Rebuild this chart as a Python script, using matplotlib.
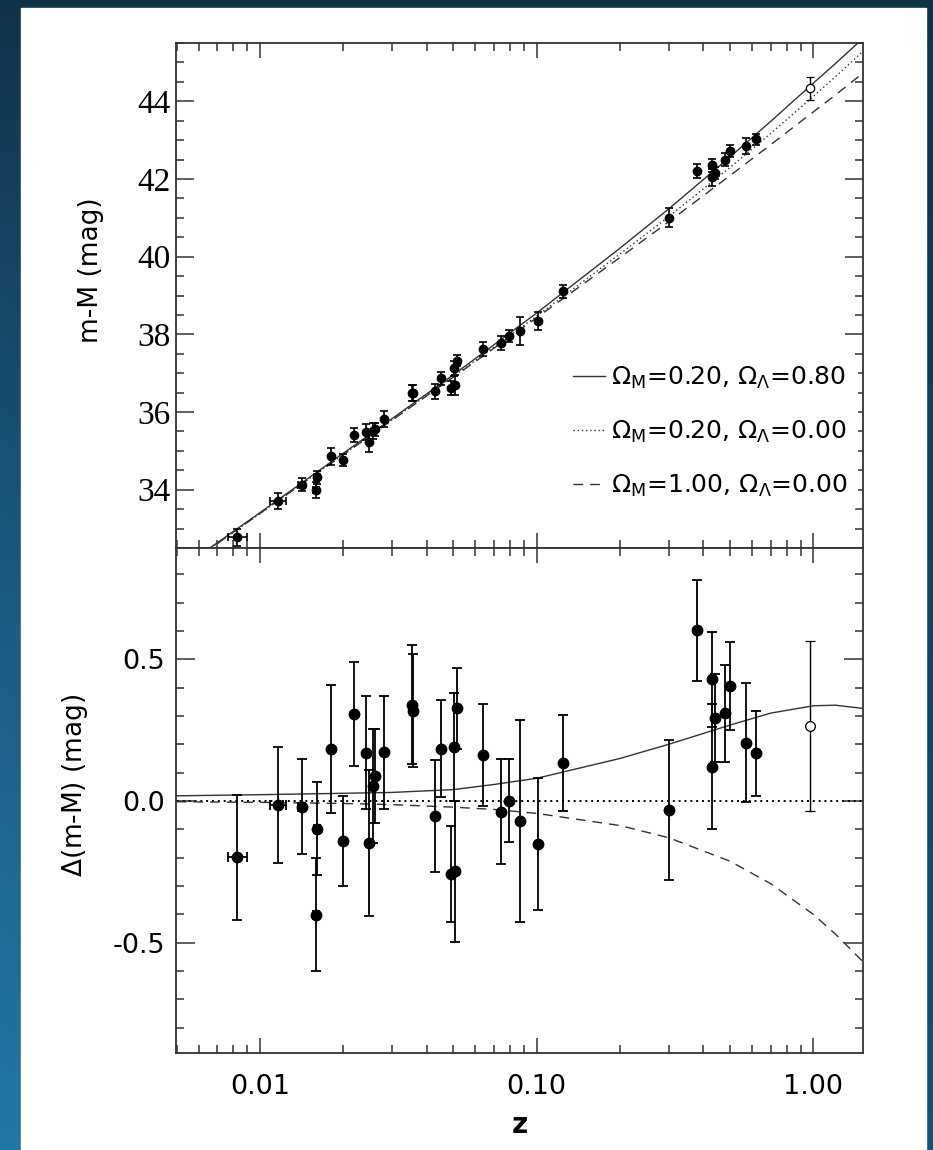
import numpy as np
import matplotlib
matplotlib.use('Agg')
import matplotlib.pyplot as plt
from matplotlib.ticker import FixedLocator, MultipleLocator, LogLocator, NullFormatter
from matplotlib.patches import Rectangle
from matplotlib.colors import LinearSegmentedColormap

plt.rcParams['font.family'] = ['DejaVu Sans']
plt.rcParams['mathtext.fontset'] = 'dejavusans'

# supernovae (filled points): redshift, distance modulus, residual, error
z = [0.00829, 0.01165, 0.01414, 0.0159, 0.01602, 0.01804, 0.01994, 0.02192,
     0.02421, 0.02475, 0.0257, 0.02594, 0.02803, 0.03528, 0.03558, 0.04282,
     0.045, 0.04911, 0.05028, 0.05064, 0.05159, 0.06383, 0.07436, 0.07967,
     0.08683, 0.1008, 0.1245, 0.2995, 0.3802, 0.4309, 0.4309, 0.4406,
     0.4786, 0.5004, 0.5715, 0.6212]
mu = [32.78, 33.71, 34.13, 34.00, 34.32, 34.86, 34.76, 35.41,
      35.49, 35.22, 35.51, 35.56, 35.82, 36.49, 36.49, 36.53,
      36.87, 36.62, 37.13, 36.70, 37.32, 37.63, 37.77, 37.96,
      38.09, 38.34, 39.11, 41.00, 42.21, 42.35, 42.04, 42.15,
      42.50, 42.71, 42.85, 43.02]
dmu = [-0.199, -0.014, -0.020, -0.402, -0.098, 0.183, -0.141, 0.307,
       0.170, -0.149, 0.053, 0.088, 0.172, 0.339, 0.319, -0.053,
       0.185, -0.259, 0.190, -0.249, 0.327, 0.162, -0.038, 0.001,
       -0.071, -0.152, 0.135, -0.032, 0.603, 0.429, 0.121, 0.292,
       0.309, 0.407, 0.206, 0.168]
err = [0.22, 0.205, 0.167, 0.20, 0.165, 0.225, 0.16, 0.185,
       0.20, 0.257, 0.20, 0.165, 0.20, 0.21, 0.20, 0.197,
       0.17, 0.17, 0.19, 0.25, 0.143, 0.18, 0.185, 0.147,
       0.357, 0.233, 0.17, 0.247, 0.178, 0.168, 0.22, 0.155,
       0.17, 0.155, 0.21, 0.15]

# redshift errors for the nearest objects
z_near = [0.00829, 0.01165, 0.01414, 0.0159, 0.01602]
mu_near = [32.78, 33.71, 34.13, 34.00, 34.32]
dmu_near = [-0.199, -0.014, -0.020, -0.402, -0.098]
zerr_near = [0.00065, 0.0008, 0.0004, 0.0004, 0.0004]

# open point
z_open = [0.973]
mu_open = [44.33]
dmu_open = [0.265]
err_open = [0.30]

# model curves
z_model = [0.005, 0.01, 0.02, 0.03, 0.05, 0.07, 0.1, 0.2, 0.3, 0.5, 0.7, 1.0, 1.2, 1.5]
mu_lambda = [31.90, 33.41, 34.94, 35.83, 36.96, 37.73, 38.55, 40.22, 41.23, 42.57, 43.48, 44.47, 44.97, 45.60]
mu_empty = [31.88, 33.39, 34.91, 35.80, 36.92, 37.67, 38.47, 40.07, 41.03, 42.30, 43.17, 44.13, 44.63, 45.27]
mu_flat = [31.88, 33.39, 34.90, 35.79, 36.90, 37.64, 38.43, 39.98, 40.90, 42.09, 42.88, 43.73, 44.16, 44.71]
res_lambda = [0.018, 0.022, 0.027, 0.030, 0.040, 0.058, 0.080, 0.150, 0.200, 0.268, 0.310, 0.336, 0.338, 0.327]
res_empty = [0, 0, 0, 0, 0, 0, 0, 0, 0, 0, 0, 0, 0, 0]
res_flat = [-0.003, -0.005, -0.009, -0.013, -0.022, -0.030, -0.044, -0.087, -0.130, -0.213, -0.292, -0.401, -0.470, -0.565]

labels = [r'$\Omega_{\rm M}$=0.20, $\Omega_{\Lambda}$=0.80',
          r'$\Omega_{\rm M}$=0.20, $\Omega_{\Lambda}$=0.00',
          r'$\Omega_{\rm M}$=1.00, $\Omega_{\Lambda}$=0.00']

W, H = 933, 1150
fig = plt.figure(figsize=(W / 100, H / 100), dpi=100)

# blue gradient frame with white page
bg = fig.add_axes([0, 0, 1, 1], zorder=-5)
u = np.linspace(0, 1, 200)[None, :]
v = np.linspace(0, 1, 240)[:, None]
t = v * (1 - 0.6 * u)
cmap = LinearSegmentedColormap.from_list('frame', ['#11334a', '#1a5a80', '#2277a8'])
bg.imshow(t, cmap=cmap, aspect='auto', extent=[0, 1, 0, 1], origin='upper', vmin=0, vmax=1)
bg.add_patch(Rectangle((21 / W, 0), (926 - 21) / W, 1 - 8 / H, color='white'))
bg.set_xlim(0, 1)
bg.set_ylim(0, 1)
bg.axis('off')

left, right = 176 / W, 863 / W
ax1 = fig.add_axes([left, 1 - 548 / H, right - left, 505 / H])
ax2 = fig.add_axes([left, 1 - 1053 / H, right - left, 505 / H], sharex=ax1)

line_kw = dict(color='#333333', lw=1.0)

# top panel
ax1.plot(z_model, mu_lambda, ls='-', label=labels[0], **line_kw)
ax1.plot(z_model, mu_empty, ls=(0, (1, 2)), label=labels[1], **line_kw)
ax1.plot(z_model, mu_flat, ls=(0, (7, 5)), label=labels[2], **line_kw)
ax1.errorbar(z, mu, yerr=err, fmt='o', color='black', ms=6, capsize=3,
             elinewidth=1.2, capthick=1.2)
ax1.errorbar(z_near, mu_near, xerr=zerr_near, fmt='none', ecolor='black',
             capsize=3, elinewidth=1.2, capthick=1.2)
ax1.errorbar(z_open, mu_open, yerr=err_open, fmt='o', mfc='white', mec='black',
             mew=0.9, ms=6, ecolor='black', capsize=3, elinewidth=1.0, capthick=1.0)

# bottom panel
ax2.plot(z_model, res_lambda, ls='-', **line_kw)
ax2.plot(z_model, res_empty, ls=(0, (1, 2)), color='black', lw=1.4)
ax2.plot(z_model, res_flat, ls=(0, (7, 5)), **line_kw)
ax2.errorbar(z, dmu, yerr=err, fmt='o', color='black', ms=7.5, capsize=3.6,
             elinewidth=1.3, capthick=1.3)
ax2.errorbar(z_near, dmu_near, xerr=zerr_near, fmt='none', ecolor='black',
             capsize=3.6, elinewidth=1.3, capthick=1.3)
ax2.errorbar(z_open, dmu_open, yerr=err_open, fmt='o', mfc='white', mec='black',
             mew=0.9, ms=7, ecolor='black', capsize=3.6, elinewidth=1.0, capthick=1.0)

ax1.set_xscale('log')
ax1.set_xlim(0.00497, 1.51)
ax1.set_ylim(32.5, 45.5)
ax2.set_ylim(-0.89, 0.893)

for ax in (ax1, ax2):
    ax.xaxis.set_major_locator(FixedLocator([0.01, 0.1, 1.0]))
    ax.xaxis.set_minor_locator(LogLocator(base=10, subs=np.arange(2, 10)))
    ax.xaxis.set_minor_formatter(NullFormatter())
    ax.tick_params(which='both', direction='in', top=True, right=True,
                   color='#333333', width=1.1)
    ax.tick_params(which='major', length=11)
    ax.tick_params(which='minor', length=6)
    for s in ax.spines.values():
        s.set_linewidth(1.3)
        s.set_color('#333333')

ax1.tick_params(axis='x', labelbottom=False)
ax1.yaxis.set_major_locator(FixedLocator([34, 36, 38, 40, 42, 44]))
ax1.yaxis.set_minor_locator(MultipleLocator(0.5))
ax1.set_yticklabels(['34', '36', '38', '40', '42', '44'],
                    fontfamily='Liberation Serif', fontsize=24)
ax1.tick_params(axis='y', which='major', length=13, pad=4)

ax2.yaxis.set_major_locator(FixedLocator([-0.5, 0.0, 0.5]))
ax2.yaxis.set_minor_locator(MultipleLocator(0.1))
ax2.set_yticklabels(['-0.5', '0.0', '0.5'], fontsize=19.5)
ax2.tick_params(axis='y', which='major', length=14, pad=8)
ax2.set_xticklabels(['0.01', '0.10', '1.00'], fontsize=19.5)
ax2.tick_params(axis='x', which='major', pad=15)

ax1.set_ylabel('m-M (mag)', fontsize=19)
ax1.yaxis.set_label_coords(-0.105, 0.55)
ax2.set_ylabel(r'$\Delta$(m-M) (mag)', fontsize=19)
ax2.yaxis.set_label_coords(-0.125, 0.53)
ax2.set_xlabel('z', fontsize=20, fontweight='bold')
ax2.xaxis.set_label_coords(0.5, -0.115)

ax1.legend(loc='lower right', bbox_to_anchor=(1.0, 0.068), frameon=True,
           facecolor='white', edgecolor='none', framealpha=1, fontsize=18,
           handlelength=1.3, handletextpad=0.25, labelspacing=1.1,
           borderaxespad=0.2)

fig.savefig('out.png', dpi=100)
